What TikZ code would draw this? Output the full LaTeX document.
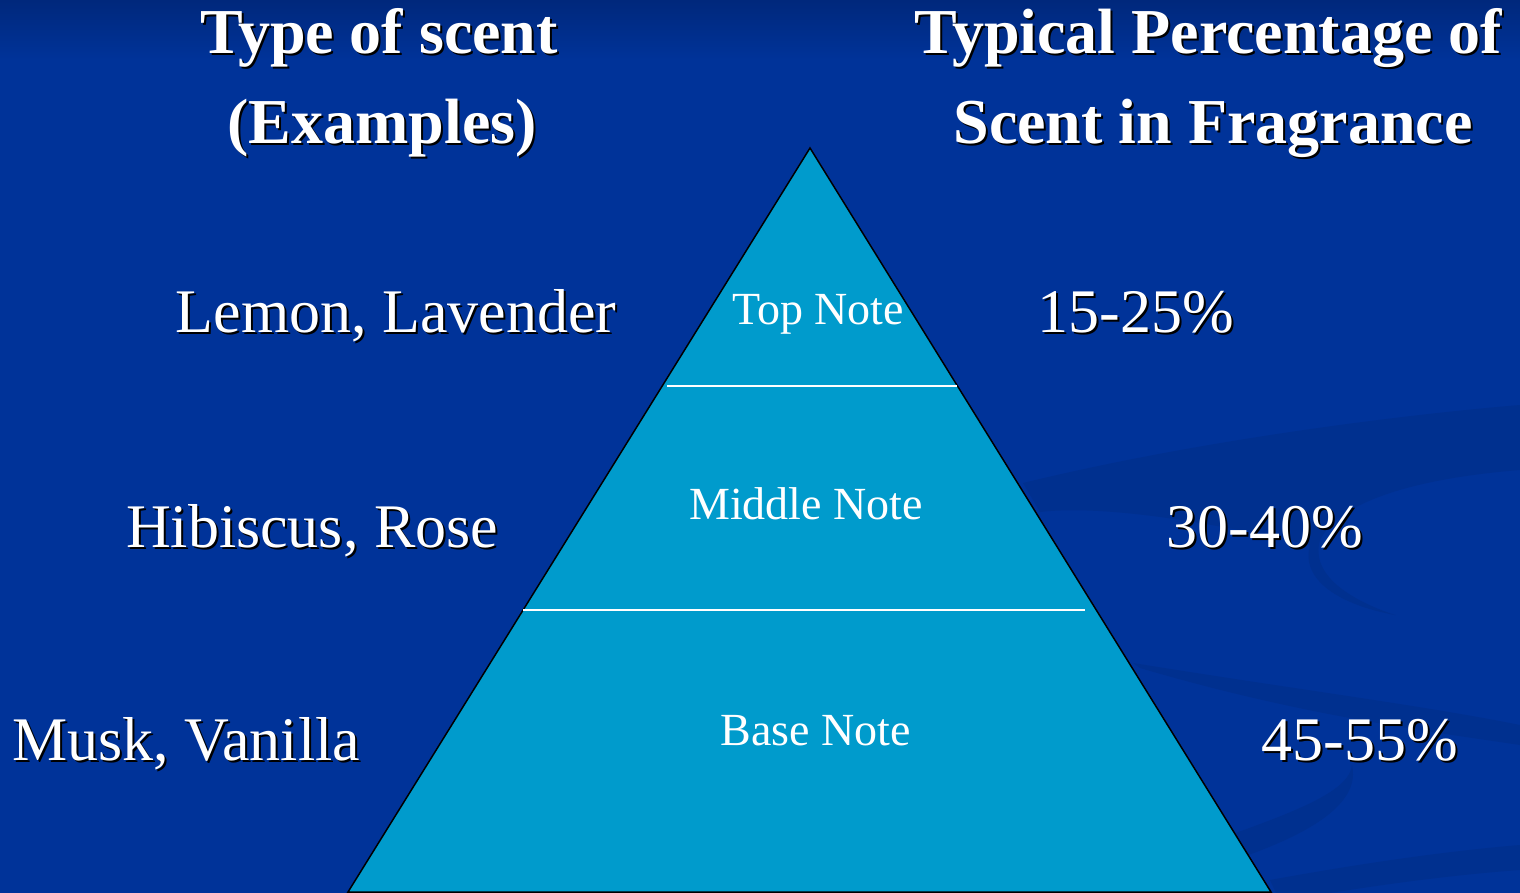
\documentclass[tikz,border=0pt]{standalone}
\usepackage{fontspec}
\setmainfont{Liberation Serif}
\definecolor{bgblue}{HTML}{003399}
\definecolor{bgtop}{HTML}{00287C}
\definecolor{swoosh}{HTML}{00308F}
\definecolor{pyr}{HTML}{009BCC}
\tikzset{
  ttl/.style={font=\fontsize{64}{72}\selectfont\bfseries, anchor=base, inner sep=0pt, text=white},
  ttlsh/.style={ttl, text=black},
  big/.style={font=\fontsize{62}{70}\selectfont, anchor=base, inner sep=0pt, text=white},
  bigsh/.style={big, text=black},
  lvl/.style={font=\fontsize{46}{52}\selectfont, anchor=base, inner sep=0pt, text=white},
  divider/.style={white, line width=2pt},
}
\begin{document}
\begin{tikzpicture}[x=1pt,y=-1pt]
\useasboundingbox (0,0) rectangle (1520,893);
% background
\fill[bgblue] (0,0) rectangle (1520,893);
\shade[top color=bgtop, bottom color=bgblue] (0,0) rectangle (1520,60);
% swooshes
\fill[swoosh] (1023,483) .. controls (1200,440) and (1400,415) .. (1520,405)
  -- (1520,470) .. controls (1420,478) and (1340,500) .. (1320,540)
  .. controls (1310,575) and (1350,600) .. (1395,615)
  .. controls (1340,605) and (1300,580) .. (1310,545)
  .. controls (1200,520) and (1100,505) .. (1040,512) -- cycle;
\fill[swoosh] (1133,663) .. controls (1300,690) and (1420,705) .. (1520,725)
  -- (1520,745) .. controls (1420,730) and (1300,715) .. (1140,668) -- cycle;
\fill[swoosh] (1230,835) .. controls (1300,810) and (1350,790) .. (1352,765)
  .. controls (1360,800) and (1320,830) .. (1240,858) -- cycle;
\fill[swoosh] (1270,880) .. controls (1380,860) and (1460,850) .. (1520,845)
  -- (1520,870) .. controls (1450,875) and (1380,885) .. (1330,893) -- (1276,893) -- cycle;
% pyramid
\coordinate (apex) at (810,148);
\coordinate (bl) at (348,892);
\coordinate (br) at (1271,892);
\fill[pyr] (apex) -- (bl) -- (br) -- cycle;
\draw[black, line width=1.5pt, line join=miter] (apex) -- (bl) -- (br) -- cycle;
\coordinate (d1l) at (667,386);
\coordinate (d1r) at (957,386);
\coordinate (d2l) at (523,610);
\coordinate (d2r) at (1085,610);
\draw[divider] (d1l) -- (d1r);
\draw[divider] (d2l) -- (d2r);
% level labels
\node[lvl] (top) at (818,324) {Top Note};
\node[lvl] (mid) at (806,519) {Middle Note};
\node[lvl] (base) at (816,745) {Base Note};
% titles
\node[ttlsh] (t1s) at (381,56) {Type of scent};
\node[ttl] (t1) at (379,54) {Type of scent};
\node[ttlsh] (t2s) at (384,146) {(Examples)};
\node[ttl] (t2) at (382,144) {(Examples)};
\node[ttlsh] (t3s) at (1210,56) {Typical Percentage of};
\node[ttl] (t3) at (1208,54) {Typical Percentage of};
\node[ttlsh] (t4s) at (1215,146) {Scent in Fragrance};
\node[ttl] (t4) at (1213,144) {Scent in Fragrance};
% examples
\node[bigsh] (e1s) at (398,334) {Lemon, Lavender};
\node[big] (e1) at (396,332) {Lemon, Lavender};
\node[bigsh] (e2s) at (314,549) {Hibiscus, Rose};
\node[big] (e2) at (312,547) {Hibiscus, Rose};
\node[bigsh] (e3s) at (188,762) {Musk, Vanilla};
\node[big] (e3) at (186,760) {Musk, Vanilla};
% percentages
\node[bigsh] (p1s) at (1138,334) {15-25\%};
\node[big] (p1) at (1136,332) {15-25\%};
\node[bigsh] (p2s) at (1267,549) {30-40\%};
\node[big] (p2) at (1265,547) {30-40\%};
\node[bigsh] (p3s) at (1362,762) {45-55\%};
\node[big] (p3) at (1360,760) {45-55\%};
\end{tikzpicture}
\end{document}
